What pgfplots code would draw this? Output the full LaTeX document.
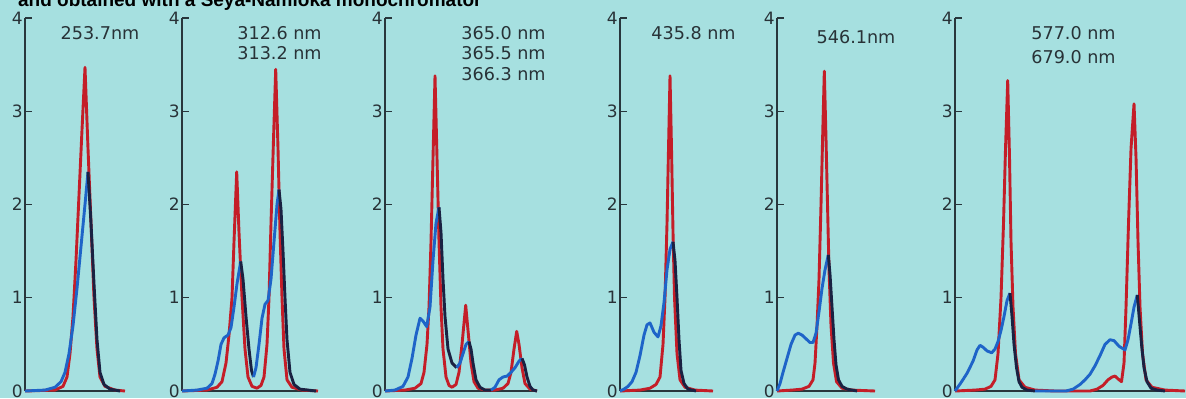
\documentclass[border=0pt]{standalone}
\usepackage{pgfplots}
\pgfplotsset{compat=1.18}
\usepackage{fontspec}
\setmainfont{DejaVu Sans}
\newfontfamily\titlefont{Liberation Sans}
\definecolor{bgc}{RGB}{166,224,224}
\definecolor{redc}{RGB}{196,30,40}
\definecolor{bluec}{RGB}{30,100,200}
\definecolor{darkc}{RGB}{26,34,66}
\definecolor{axisc}{RGB}{40,54,60}
\definecolor{txtc}{RGB}{40,50,55}
\pgfplotsset{panel/.style={
  scale only axis, height=186.5pt, anchor=south west,
  xmin=0, ymin=0, ymax=4,
  axis lines*=left, xtick=\empty, ytick={0,1,2,3,4},
  tick align=inside, major tick length=3.5pt,
  axis line style={draw=axisc, line width=0.7pt},
  tick style={draw=axisc, line width=0.7pt},
  yticklabel style={font=\fontsize{8.5}{9}\selectfont, text=txtc, inner sep=1pt},
  /pgf/number format/assume math mode=true,
  clip=false,
  every axis plot/.append style={line width=1.45pt, line join=round, no markers}
}}
\begin{document}
\begin{tikzpicture}
\useasboundingbox (0,0) rectangle (593pt,199pt);
\fill[bgc] (0,0) rectangle (593pt,199pt);
\node[anchor=base east, inner sep=0pt, font=\titlefont\bfseries\fontsize{9.5}{10}\selectfont] at (241pt,196pt) {and obtained with a Seya-Namioka monochromator};

% Panel 1
\begin{axis}[panel, at={(12.5pt,3.5pt)}, width=50pt, xmax=100]
\addplot[redc] coordinates {(0,0)(30,0.01)(38,0.05)(42,0.15)(45,0.4)(48,0.8)(51,1.4)(54,2.1)(57,2.8)(60,3.47)(63,2.6)(66,1.8)(69,1.0)(72,0.45)(75,0.15)(80,0.05)(90,0.01)(100,0)};
\addplot[bluec] coordinates {(0,0)(20,0.01)(30,0.04)(36,0.1)(40,0.2)(44,0.4)(48,0.7)(52,1.1)(56,1.55)(60,2.0)(63,2.35)};
\addplot[darkc] coordinates {(63,2.35)(66,1.8)(69,1.15)(72,0.55)(75,0.2)(79,0.07)(85,0.02)(95,0)};
\end{axis}
\node[font=\fontsize{8.8}{9}\selectfont, text=txtc] at (50pt,182.5pt) {253.7nm};

% Panel 2
\begin{axis}[panel, at={(91pt,3.5pt)}, width=68pt, xmax=136]
\addplot[redc] coordinates {(0,0)(25,0.01)(35,0.04)(40,0.1)(44,0.3)(47,0.6)(50,1.0)(52,1.6)(54.7,2.35)(57,1.7)(60,1.0)(63,0.45)(66,0.15)(70,0.05)(75,0.03)(79,0.06)(82,0.15)(85,0.5)(87,1.0)(89,1.8)(91.5,2.7)(93.7,3.45)(96,2.6)(98,1.7)(100,1.0)(102,0.45)(105,0.12)(110,0.04)(120,0.01)(136,0)};
\addplot[bluec] coordinates {(0,0)(15,0.01)(25,0.03)(30,0.08)(33,0.18)(36,0.32)(39,0.5)(42,0.57)(46,0.6)(49,0.68)(52,0.9)(55,1.15)(58.7,1.39)};
\addplot[darkc] coordinates {(58.7,1.39)(61,1.2)(64,0.8)(67,0.45)(69.5,0.22)(71.5,0.15)};
\addplot[bluec] coordinates {(71.5,0.15)(74,0.25)(77,0.5)(80,0.78)(83,0.93)(86,0.97)(89,1.2)(92,1.6)(95,2.0)(97,2.16)};
\addplot[darkc] coordinates {(97,2.16)(99,1.95)(101,1.5)(103,1.0)(105,0.55)(108,0.2)(112,0.07)(118,0.02)(134,0)};
\end{axis}
\node[font=\fontsize{8.8}{9}\selectfont, text=txtc] at (139.75pt,182.5pt) {312.6 nm};
\node[font=\fontsize{8.8}{9}\selectfont, text=txtc] at (139.75pt,172.5pt) {313.2 nm};

% Panel 3
\begin{axis}[panel, at={(192.5pt,3.5pt)}, width=76pt, xmax=152]
\addplot[redc] coordinates {(0,0)(20,0.01)(30,0.03)(36,0.08)(39,0.2)(42,0.5)(44,0.9)(46,1.6)(48,2.5)(50,3.38)(52,2.5)(54,1.6)(56,0.9)(58,0.45)(61,0.15)(64,0.06)(67,0.04)(71,0.07)(74,0.2)(77,0.5)(80.7,0.92)(83,0.65)(86,0.3)(89,0.1)(93,0.03)(100,0.01)(110,0.01)(118,0.03)(123,0.08)(126,0.2)(129,0.45)(131.7,0.64)(134,0.5)(137,0.25)(140,0.08)(145,0.02)(152,0)};
\addplot[bluec] coordinates {(0,0)(10,0.01)(18,0.05)(23,0.15)(27,0.35)(31,0.6)(35,0.78)(38,0.75)(41.7,0.69)(45,0.9)(48,1.4)(51,1.8)(54,1.97)};
\addplot[darkc] coordinates {(54,1.97)(56,1.7)(58,1.2)(60,0.8)(63,0.45)(67,0.3)(71.7,0.25)};
\addplot[bluec] coordinates {(71.7,0.25)(75,0.3)(78,0.4)(81,0.5)(84,0.53)};
\addplot[darkc] coordinates {(84,0.53)(86,0.45)(88,0.3)(91,0.12)(95,0.04)(100,0.01)(106,0.01)};
\addplot[bluec] coordinates {(106,0.01)(110,0.04)(114,0.12)(118,0.15)(122,0.16)(126,0.2)(130,0.25)(134,0.32)(137,0.35)};
\addplot[darkc] coordinates {(137,0.35)(139.5,0.28)(142,0.15)(145,0.05)(148,0.01)(152,0)};
\end{axis}
\node[font=\fontsize{8.8}{9}\selectfont, text=txtc] at (251.75pt,182.5pt) {365.0 nm};
\node[font=\fontsize{8.8}{9}\selectfont, text=txtc] at (251.75pt,172.5pt) {365.5 nm};
\node[font=\fontsize{8.8}{9}\selectfont, text=txtc] at (251.75pt,162pt) {366.3 nm};

% Panel 4
\begin{axis}[panel, at={(310pt,3.5pt)}, width=46.5pt, xmax=93]
\addplot[redc] coordinates {(0,0)(20,0.01)(30,0.03)(36,0.07)(40,0.15)(43,0.5)(45,1.0)(47,1.8)(48.5,2.6)(50,3.38)(51.5,2.6)(53,1.7)(54.5,1.0)(57,0.4)(60,0.12)(65,0.04)(75,0.01)(93,0)};
\addplot[bluec] coordinates {(0,0)(4,0.02)(8,0.05)(12,0.1)(16,0.2)(20,0.38)(24,0.6)(27,0.71)(30,0.73)(34,0.63)(38,0.58)(41,0.7)(44,0.95)(47,1.3)(50,1.52)(53,1.6)};
\addplot[darkc] coordinates {(53,1.6)(55,1.4)(57,1.0)(59,0.55)(61,0.22)(64,0.08)(68,0.02)(76,0)};
\end{axis}
\node[font=\fontsize{8.8}{9}\selectfont, text=txtc] at (346.75pt,182.5pt) {435.8 nm};

% Panel 5
\begin{axis}[panel, at={(388.5pt,3.5pt)}, width=49pt, xmax=98]
\addplot[redc] coordinates {(0,0)(15,0.01)(25,0.02)(32,0.05)(36,0.12)(38,0.3)(40,0.7)(42,1.2)(44,2.0)(45.8,2.8)(47.3,3.43)(49,2.7)(50.5,2.0)(52,1.3)(54,0.7)(56.5,0.3)(59.5,0.1)(65,0.03)(75,0.01)(98,0)};
\addplot[bluec] coordinates {(0,0)(3,0.08)(6,0.2)(10,0.35)(14,0.5)(18,0.6)(21.3,0.62)(25,0.6)(29,0.56)(33,0.52)(36,0.52)(39,0.62)(42,0.85)(45,1.1)(48,1.3)(51.3,1.46)};
\addplot[darkc] coordinates {(51.3,1.46)(53,1.25)(55,0.9)(57,0.55)(59,0.28)(61.5,0.12)(65,0.05)(70,0.02)(80,0)};
\end{axis}
\node[font=\fontsize{8.8}{9}\selectfont, text=txtc] at (428pt,180.5pt) {546.1nm};

% Panel 6
\begin{axis}[panel, at={(477.5pt,3.5pt)}, width=115pt, xmax=230]
\addplot[redc] coordinates {(0,0)(20,0.01)(30,0.02)(36,0.05)(40,0.12)(43,0.4)(46,1.0)(48.5,1.8)(50.5,2.6)(52.7,3.33)(54.5,2.5)(56,1.6)(58,0.9)(60.5,0.4)(64,0.12)(70,0.04)(80,0.01)(100,0)(135,0)(142,0.02)(148,0.06)(153,0.12)(157,0.15)(160,0.16)(163,0.13)(166.5,0.1)(169,0.3)(171,0.9)(173.5,1.8)(176,2.6)(179,3.08)(181,2.5)(183,1.6)(185,0.9)(187.5,0.4)(191,0.12)(197,0.04)(210,0.01)(230,0)};
\addplot[bluec] coordinates {(0,0)(6,0.09)(12,0.19)(18,0.32)(22,0.44)(25,0.49)(28,0.47)(32,0.43)(36.7,0.41)(40,0.45)(43,0.53)(46,0.65)(49,0.8)(52,0.97)(55,1.05)};
\addplot[darkc] coordinates {(55,1.05)(57,0.8)(59,0.5)(61.5,0.25)(64,0.1)(67,0.04)(72,0.01)(80,0)};
\addplot[bluec] coordinates {(80,0)(111,0)(118,0.02)(125,0.07)(130,0.12)(135,0.18)(140,0.27)(145,0.38)(150,0.5)(155,0.55)(159,0.54)(164,0.48)(170,0.44)(173,0.55)(176,0.72)(179,0.9)(182.3,1.03)};
\addplot[darkc] coordinates {(182.3,1.03)(184.5,0.75)(186.7,0.48)(189,0.25)(192,0.1)(196,0.03)(202,0.01)(210,0)};
\end{axis}
\node[font=\fontsize{8.8}{9}\selectfont, text=txtc] at (536.75pt,182.5pt) {577.0 nm};
\node[font=\fontsize{8.8}{9}\selectfont, text=txtc] at (536.75pt,170.5pt) {679.0 nm};
\end{tikzpicture}
\end{document}
